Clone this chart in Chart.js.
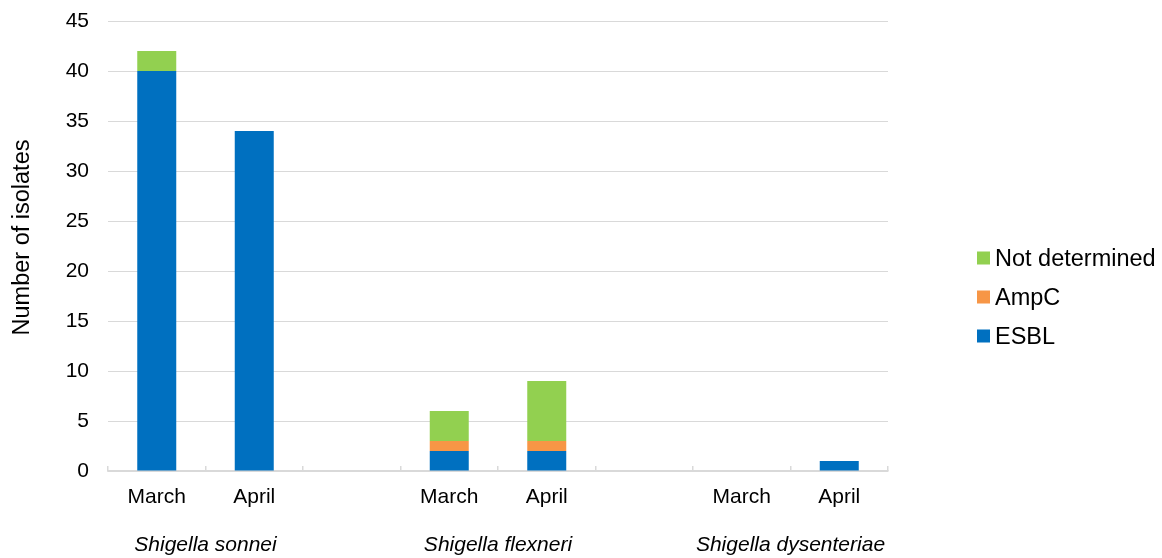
<!DOCTYPE html>
<html>
<head>
<meta charset="utf-8">
<script src="https://cdn.jsdelivr.net/npm/chart.js@4/dist/chart.umd.min.js"></script>
<style>
  html, body { margin: 0; padding: 0; background: #ffffff; }
  #wrap { width: 1162px; height: 558px; }
</style>
</head>
<body>
<div id="wrap"><canvas id="chart" width="1162" height="558"></canvas></div>
<script>
// Month slots; the empty slots separate the three species groups
const months = ['March', 'April', '', 'March', 'April', '', 'March', 'April'];
const species = ['Shigella sonnei', 'Shigella flexneri', 'Shigella dysenteriae'];
const speciesSlots = [[0, 1], [3, 4], [6, 7]];

// Isolate counts per mechanism
const esbl          = [40, 34, null, 2, 2, null, 0, 1];
const ampc          = [0, 0, null, 1, 1, null, 0, 0];
const notDetermined = [2, 0, null, 3, 6, null, 0, 0];

// Y axis range and title
const yMin = 0;
const yMax = 45;
const yStep = 5;
const yTitle = 'Number of isolates';

const FONT = '"Liberation Sans", Arial, Helvetica, sans-serif';
const TEXT = '#000000';
const GRID = '#d9d9d9';

// Species names under the month labels, centred on each pair of months
const speciesLabels = {
  id: 'speciesLabels',
  afterDraw(chart) {
    const x = chart.scales.x;
    const ctx = chart.ctx;
    ctx.save();
    ctx.font = 'italic 21px ' + FONT;
    ctx.fillStyle = TEXT;
    ctx.textAlign = 'center';
    ctx.textBaseline = 'alphabetic';
    species.forEach((name, i) => {
      const [a, b] = speciesSlots[i];
      const cx = (x.getPixelForValue(a) + x.getPixelForValue(b)) / 2;
      ctx.fillText(name, cx, 551);
    });
    ctx.restore();
  }
};

// Rotated value-axis title, set a little above the plot's middle
const axisTitle = {
  id: 'axisTitle',
  afterDraw(chart) {
    const ctx = chart.ctx;
    const area = chart.chartArea;
    ctx.save();
    ctx.translate(22.5, (area.top + area.bottom) / 2 - 8.5);
    ctx.rotate(-Math.PI / 2);
    ctx.font = '23.5px ' + FONT;
    ctx.fillStyle = TEXT;
    ctx.textAlign = 'center';
    ctx.textBaseline = 'middle';
    ctx.fillText(yTitle, 0, 0);
    ctx.restore();
  }
};

// Legend at the right, newest series on top
const sideLegend = {
  id: 'sideLegend',
  afterDraw(chart) {
    const ctx = chart.ctx;
    ctx.save();
    ctx.font = '23.5px ' + FONT;
    ctx.textBaseline = 'alphabetic';
    ctx.textAlign = 'left';
    const items = chart.data.datasets.slice().reverse();
    items.forEach((ds, i) => {
      const base = 266 + i * 39;
      ctx.fillStyle = ds.backgroundColor;
      ctx.fillRect(977, base - 14.5, 13, 13);
      ctx.fillStyle = TEXT;
      ctx.fillText(ds.label, 995, base);
    });
    ctx.restore();
  }
};

new Chart(document.getElementById('chart'), {
  type: 'bar',
  data: {
    labels: months,
    datasets: [
      { label: 'ESBL', data: esbl, backgroundColor: '#0070C0' },
      { label: 'AmpC', data: ampc, backgroundColor: '#F79646' },
      { label: 'Not determined', data: notDetermined, backgroundColor: '#92D050' }
    ]
  },
  options: {
    responsive: false,
    devicePixelRatio: 1,
    animation: false,
    layout: { autoPadding: false, padding: { left: 0, right: 274, top: 21, bottom: 0 } },
    datasets: { bar: { categoryPercentage: 1.0, barPercentage: 0.4, borderWidth: 0 } },
    plugins: {
      legend: { display: false },
      tooltip: { enabled: false }
    },
    scales: {
      x: {
        stacked: true,
        afterFit(scale) { scale.height = 87; },
        grid: {
          offset: true,
          drawOnChartArea: false,
          drawTicks: true,
          tickLength: -5,
          color: GRID,
          lineWidth: 1.5
        },
        border: { display: true, color: GRID, width: 1.5 },
        ticks: {
          color: TEXT,
          font: { family: FONT, size: 21 },
          padding: 19,
          maxRotation: 0,
          autoSkip: false
        }
      },
      y: {
        stacked: true,
        min: yMin,
        max: yMax,
        afterFit(scale) { scale.width = 108; scale.paddingTop = 0; scale.paddingBottom = 0; },
        grid: { color: GRID, lineWidth: 1, drawTicks: false },
        border: { display: false },
        ticks: {
          stepSize: yStep,
          color: TEXT,
          font: { family: FONT, size: 21 },
          padding: 19
        },
        title: { display: false }
      }
    }
  },
  plugins: [speciesLabels, axisTitle, sideLegend]
});
</script>
</body>
</html>
